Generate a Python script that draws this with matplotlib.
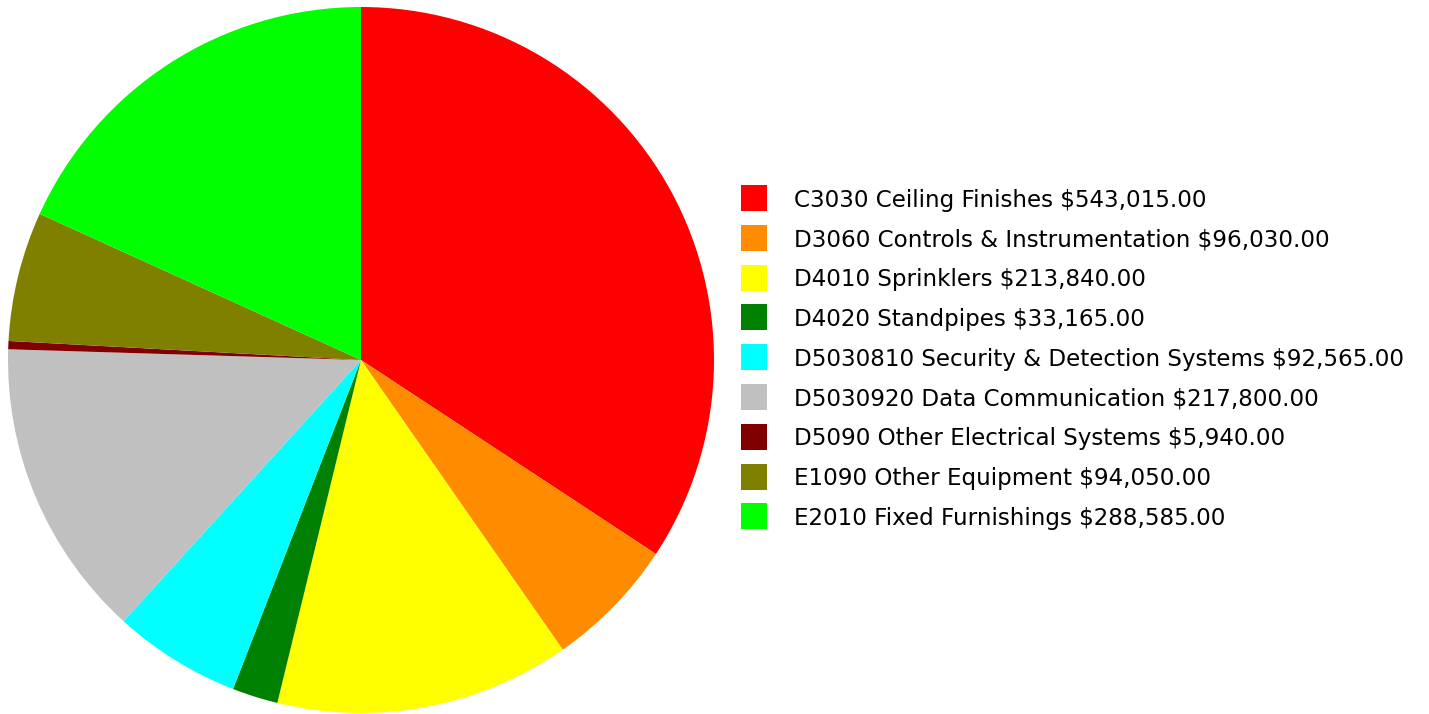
import matplotlib
matplotlib.use("Agg")
import matplotlib.pyplot as plt
from matplotlib.patches import Rectangle

categories = [
    "C3030 Ceiling Finishes",
    "D3060 Controls & Instrumentation",
    "D4010 Sprinklers",
    "D4020 Standpipes",
    "D5030810 Security & Detection Systems",
    "D5030920 Data Communication",
    "D5090 Other Electrical Systems",
    "E1090 Other Equipment",
    "E2010 Fixed Furnishings",
]
values = [543015.00, 96030.00, 213840.00, 33165.00, 92565.00,
          217800.00, 5940.00, 94050.00, 288585.00]
colors = ["#FF0000", "#FF8C00", "#FFFF00", "#008000", "#00FFFF",
          "#C0C0C0", "#800000", "#808000", "#00FF00"]

W, H = 1429, 714
fig = plt.figure(figsize=(W / 100, H / 100), dpi=100)
fig.patch.set_facecolor("white")

# pie area: centre (361, 360) px, radius 353 px
cx, cy, r = 361, 360, 353
ax = fig.add_axes([(cx - r) / W, (H - cy - r) / H, 2 * r / W, 2 * r / H])
ax.pie(values, colors=colors, startangle=90, counterclock=False,
       radius=1.0, wedgeprops=dict(linewidth=0))
ax.set_xlim(-1, 1)
ax.set_ylim(-1, 1)
ax.set_aspect("equal")
ax.axis("off")

# legend: swatches and labels
x_box, box = 741, 26
y0, step = 198, 39.8
for i, (name, val, col) in enumerate(zip(categories, values, colors)):
    yc = y0 + i * step
    fig.patches.append(Rectangle((x_box / W, (H - yc - box / 2) / H), box / W, box / H,
                                 transform=fig.transFigure, facecolor=col,
                                 edgecolor="none"))
    fig.text(794 / W, (H - yc - 2) / H, f"{name} ${val:,.2f}", fontsize=16.6,
             family="DejaVu Sans", va="center", ha="left", color="#000000")

fig.savefig("out.png", dpi=100, facecolor="white")
